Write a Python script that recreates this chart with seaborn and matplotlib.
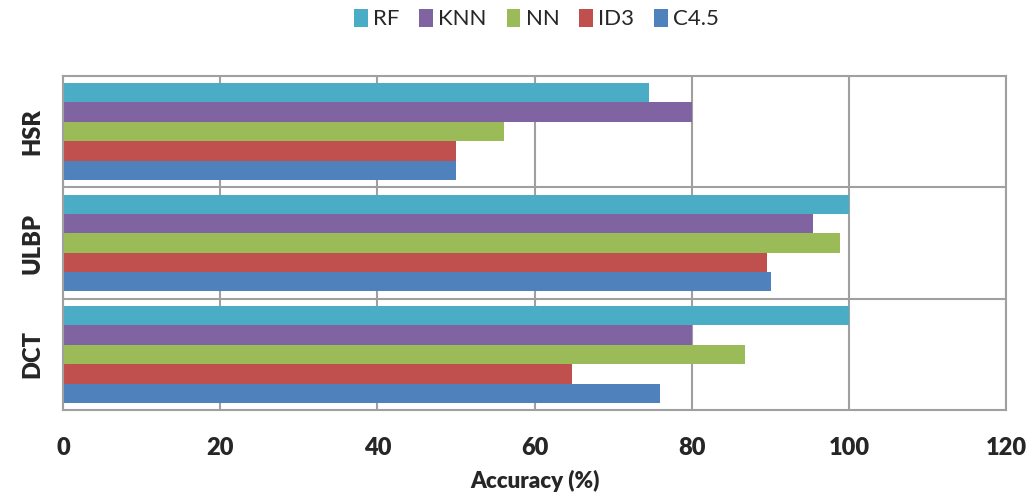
import pandas as pd
import seaborn as sns
import matplotlib.pyplot as plt

sns.set_style("white")
plt.rcParams['font.family'] = ['Lato', 'DejaVu Sans']

datasets = ["HSR", "ULBP", "DCT"]
methods = ["RF", "KNN", "NN", "ID3", "C4.5"]
rf = [74.5, 100, 100]
knn = [80, 95.4, 80]
nn = [56.1, 98.8, 86.8]
id3 = [50, 89.6, 64.8]
c45 = [50, 90.1, 76.0]
colors = ["#4BACC6", "#8064A2", "#9BBB59", "#C0504D", "#4F81BD"]

rows = []
for m, vals in zip(methods, [rf, knn, nn, id3, c45]):
    for d, v in zip(datasets, vals):
        rows.append({"dataset": d, "method": m, "accuracy": v})
df = pd.DataFrame(rows)

fig = plt.figure(figsize=(10.32, 4.99), dpi=100)
ax = fig.add_axes([0.061, 0.178, 0.914, 0.670])

sns.barplot(data=df, y="dataset", x="accuracy", hue="method", order=datasets,
            hue_order=methods, palette=colors, orient="h", width=0.87,
            saturation=1, linewidth=0, ax=ax)

ax.set_xlim(0, 120)
ax.set_xticks(range(0, 121, 20))
ax.set_ylim(2.5, -0.5)
ax.set_yticks([0.5, 1.5], minor=True)
ax.grid(axis="x", color="#a0a0a0", linewidth=1.5)
ax.grid(axis="y", which="minor", color="#a0a0a0", linewidth=1.5)
ax.set_axisbelow(True)
for s in ax.spines.values():
    s.set_color("#a0a0a0")
    s.set_linewidth(1.5)

ax.tick_params(axis="both", length=0)
ax.tick_params(axis="x", pad=19, labelsize=17)
ax.tick_params(axis="y", pad=22, labelsize=17)
for lbl in ax.get_xticklabels():
    lbl.set_fontweight("heavy")
for lbl in ax.get_yticklabels():
    lbl.set_fontweight("heavy")
    lbl.set_rotation(90)
    lbl.set_va("center")
    lbl.set_ha("center")

ax.set_ylabel("")
ax.set_xlabel("Accuracy (%)", fontsize=16, fontweight="heavy", labelpad=8)

handles, labels = ax.get_legend_handles_labels()
ax.legend_.remove()
fig.legend(handles, labels, loc="center", bbox_to_anchor=(0.52, 0.962), ncol=5,
           frameon=False, fontsize=16, handlelength=0.6, handleheight=0.9,
           handletextpad=0.25, columnspacing=0.9)

fig.savefig("out.png", dpi=100)
